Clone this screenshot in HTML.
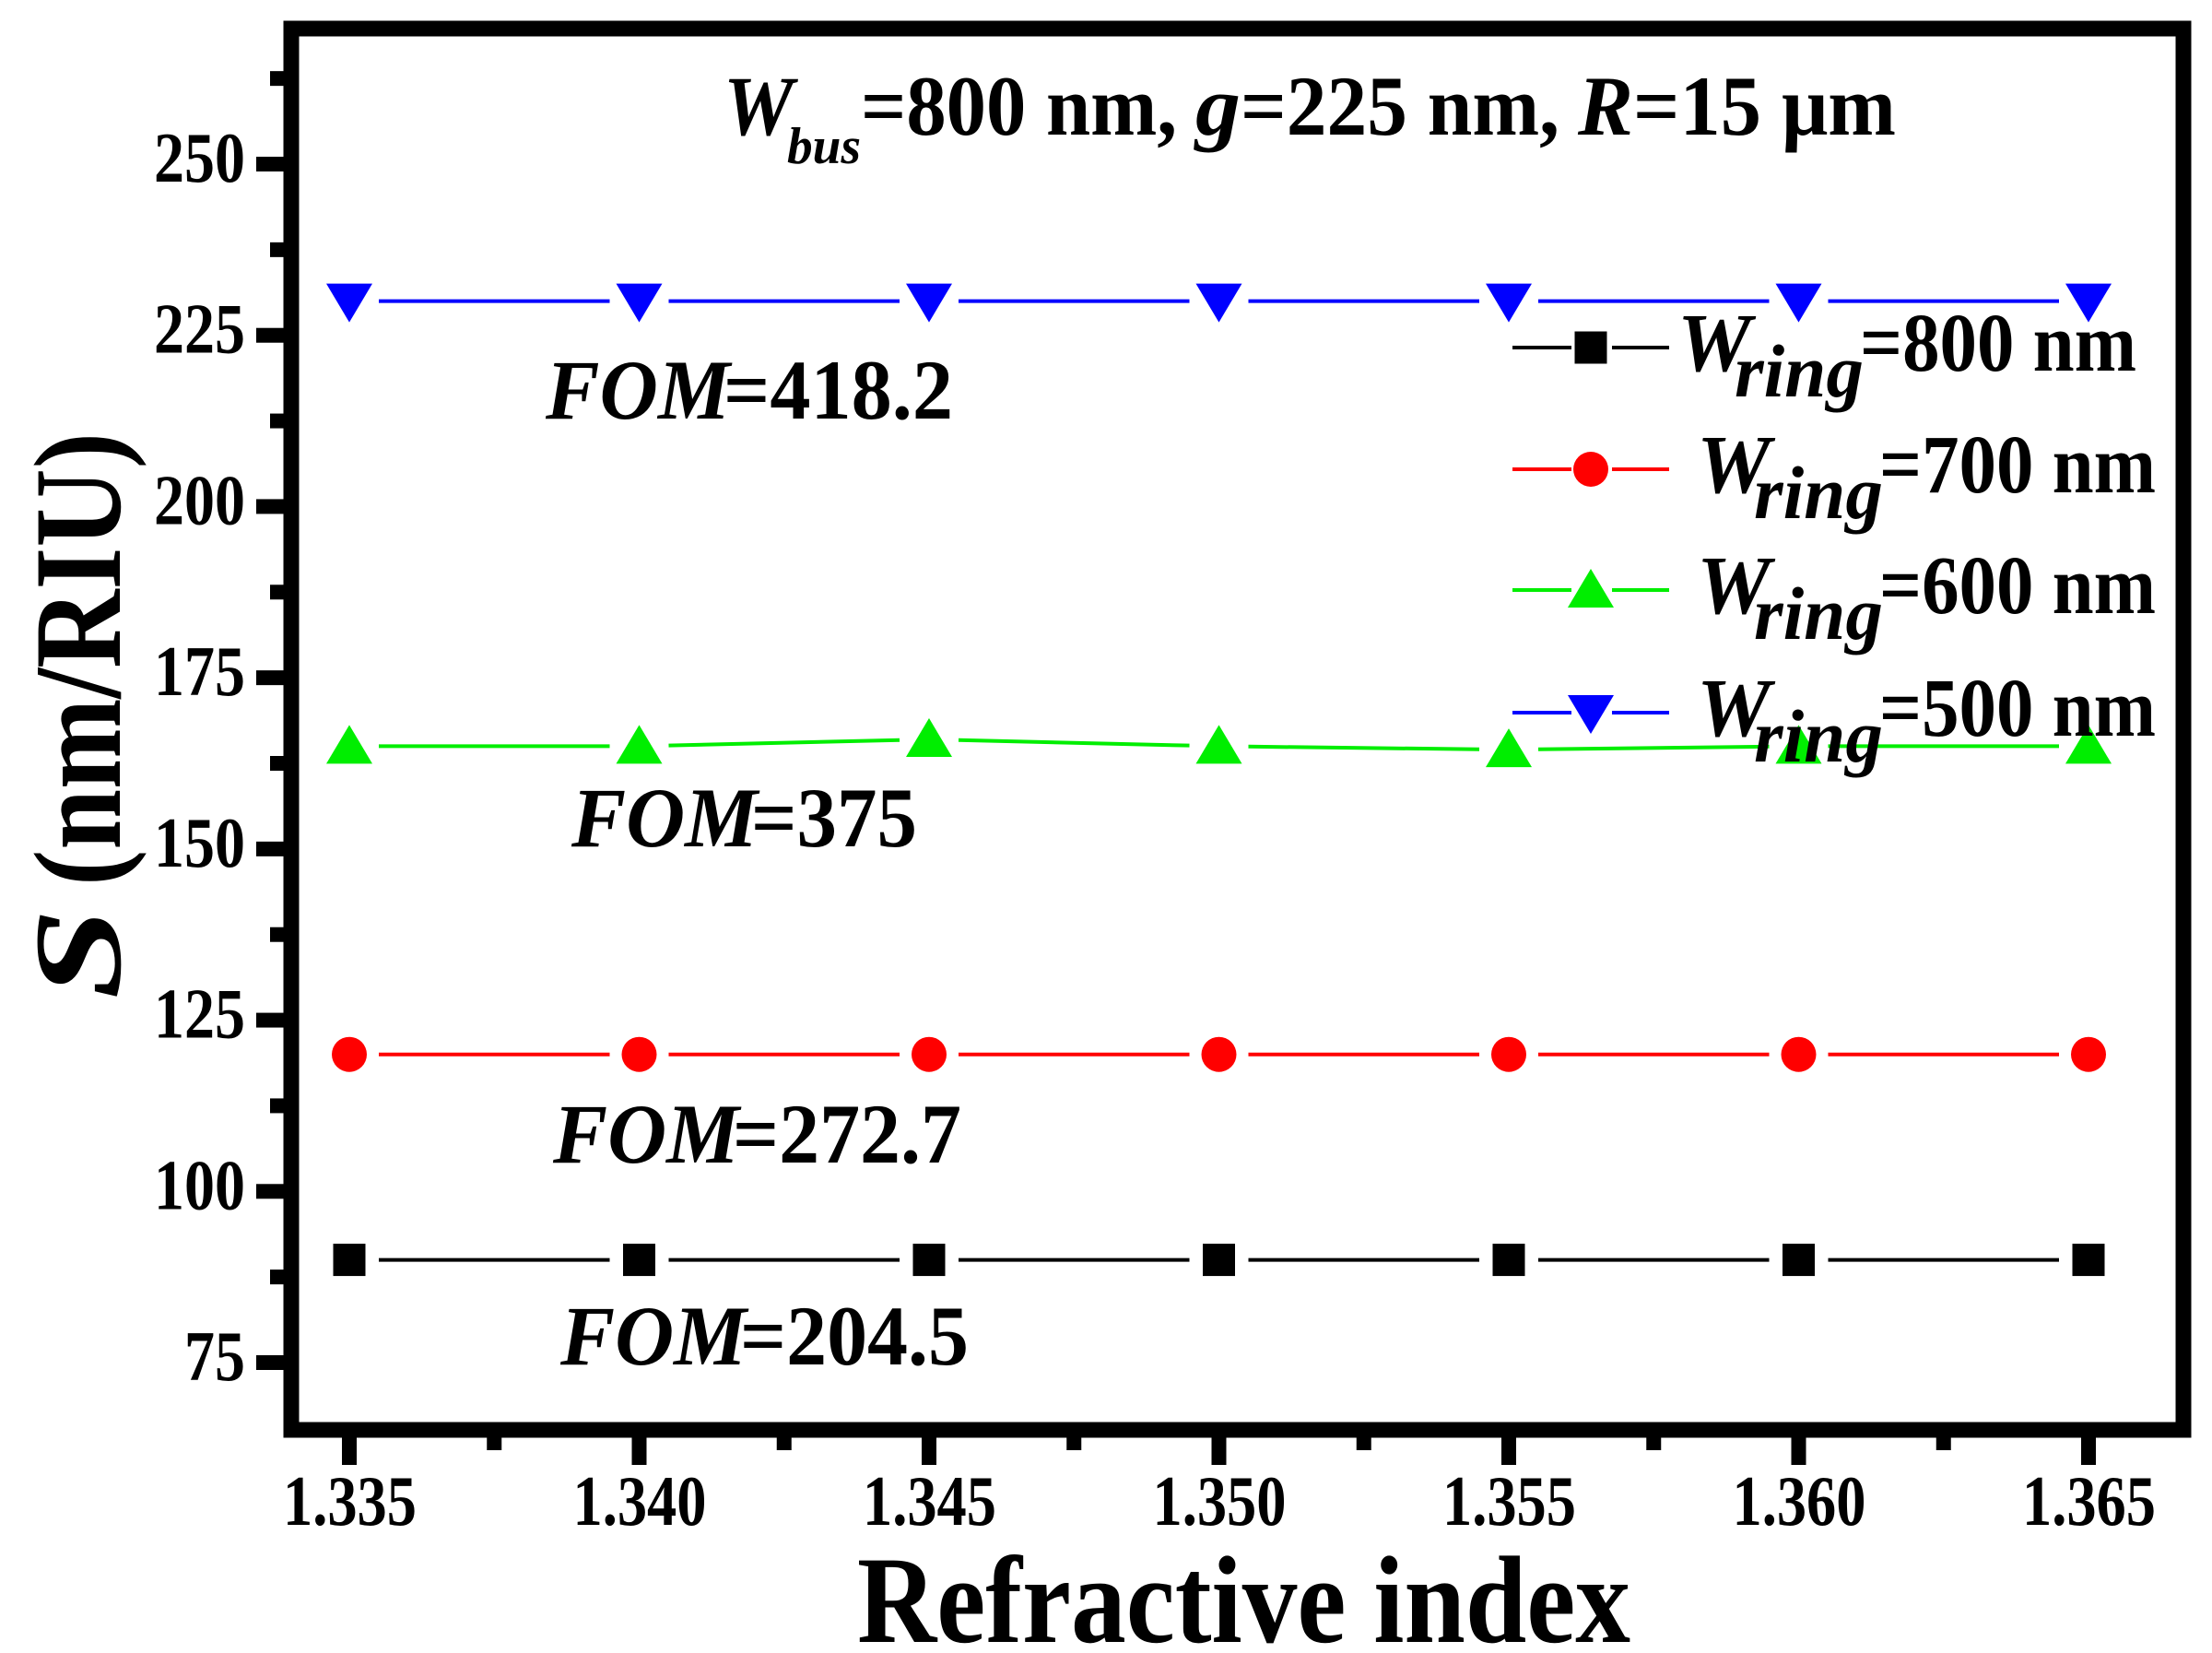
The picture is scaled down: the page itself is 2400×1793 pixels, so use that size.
<!DOCTYPE html>
<html><head><meta charset="utf-8"><style>
html,body{margin:0;padding:0;background:#fff}
svg{display:block}
text{font-family:"Liberation Serif",serif;font-weight:bold;fill:#000}
.i{font-style:italic}
</style></head><body>
<svg id="chart" width="2400" height="1793" viewBox="0 0 2400 1793" xmlns="http://www.w3.org/2000/svg">
<g id="plot"></g>
<g id="axes"></g>
<g>
<text class="i" x="785" y="146" font-size="92" textLength="76" lengthAdjust="spacingAndGlyphs">W</text>
<text class="i" x="854" y="177" font-size="56" textLength="80" lengthAdjust="spacingAndGlyphs">bus</text>
<text x="934" y="146" font-size="92" textLength="343" lengthAdjust="spacingAndGlyphs">=800 nm,</text>
<text class="i" x="1297" y="146" font-size="92" textLength="49" lengthAdjust="spacingAndGlyphs">g</text>
<text x="1346" y="146" font-size="92" textLength="346" lengthAdjust="spacingAndGlyphs">=225 nm,</text>
<text class="i" x="1712" y="146" font-size="92" textLength="60" lengthAdjust="spacingAndGlyphs">R</text>
<text x="1772" y="146" font-size="92" textLength="285" lengthAdjust="spacingAndGlyphs">=15 μm</text>
</g>
<g>
<g><text class="i" x="592" y="454" font-size="92" textLength="200" lengthAdjust="spacingAndGlyphs">FOM</text><text x="785" y="454" font-size="92" textLength="249" lengthAdjust="spacingAndGlyphs">=418.2</text></g>
<g><text class="i" x="620" y="918" font-size="92" textLength="202" lengthAdjust="spacingAndGlyphs">FOM</text><text x="815" y="918" font-size="92" textLength="180" lengthAdjust="spacingAndGlyphs">=375</text></g>
<g><text class="i" x="600" y="1261" font-size="92" textLength="202" lengthAdjust="spacingAndGlyphs">FOM</text><text x="795" y="1261" font-size="92" textLength="248" lengthAdjust="spacingAndGlyphs">=272.7</text></g>
<g><text class="i" x="608" y="1480" font-size="92" textLength="202" lengthAdjust="spacingAndGlyphs">FOM</text><text x="803" y="1480" font-size="92" textLength="248" lengthAdjust="spacingAndGlyphs">=204.5</text></g>
</g>
<text x="930" y="1781" font-size="135" textLength="839" lengthAdjust="spacingAndGlyphs">Refractive index</text>
<g transform="translate(130,1084) rotate(-90)">
<text class="i" x="0" y="0" font-size="135" textLength="99" lengthAdjust="spacingAndGlyphs">S</text>
<text x="123" y="0" font-size="135" textLength="492" lengthAdjust="spacingAndGlyphs">(nm/RIU)</text>
</g>
<g id="legend"></g>
</svg>
<script>
const categories = [1.335, 1.340, 1.345, 1.350, 1.355, 1.360, 1.365];
const s800 = [90, 90, 90, 90, 90, 90, 90];
const s700 = [120, 120, 120, 120, 120, 120, 120];
const s600 = [165, 165, 166, 165, 164.5, 165, 165];
const s500 = [230, 230, 230, 230, 230, 230, 230];
const yTicks = [75, 100, 125, 150, 175, 200, 225, 250];
const yTickLabels = ["75", "100", "125", "150", "175", "200", "225", "250"];
const xTickLabels = ["1.335", "1.340", "1.345", "1.350", "1.355", "1.360", "1.365"];
const legendLabels = ["=800 nm", "=700 nm", "=600 nm", "=500 nm"];

const NS = "http://www.w3.org/2000/svg";
const X0 = 379, X1 = 2266, XV0 = 1.335, XV1 = 1.365;
const Y0 = 1478, Y1 = 178, YV0 = 75, YV1 = 250;
function xs(v){ return X0 + (v - XV0) / (XV1 - XV0) * (X1 - X0); }
function ys(v){ return Y0 + (v - YV0) / (YV1 - YV0) * (Y1 - Y0); }
function mk(tag, attrs, parent){
  const e = document.createElementNS(NS, tag);
  for (const k in attrs) e.setAttribute(k, attrs[k]);
  parent.appendChild(e); return e;
}
const plot = document.getElementById('plot');
const axes = document.getElementById('axes');
const legend = document.getElementById('legend');

function marker(type, cx, cy, color, parent){
  let e;
  if (type === 'square') e = mk('rect', {x: cx-17.5, y: cy-17.5, width: 35, height: 35, fill: color}, parent);
  else if (type === 'circle') e = mk('ellipse', {cx: cx, cy: cy, rx: 19, ry: 19, fill: color}, parent);
  else if (type === 'up') e = mk('polygon', {points: `${cx-25},${cy+19} ${cx+25},${cy+19} ${cx},${cy-23}`, fill: color}, parent);
  else e = mk('polygon', {points: `${cx-25},${cy-19} ${cx+25},${cy-19} ${cx},${cy+23}`, fill: color}, parent);
  return e;
}
const series = [
  {vals: s800, color: '#000', type: 'square', name: 'series-w800'},
  {vals: s700, color: '#ff0000', type: 'circle', name: 'series-w700'},
  {vals: s600, color: '#00ee00', type: 'up', name: 'series-w600'},
  {vals: s500, color: '#0000ff', type: 'down', name: 'series-w500'}
];
series.forEach(s => {
  const g = mk('g', {}, plot);
  
  
  for (let i = 0; i < categories.length - 1; i++){
    const xa = xs(categories[i]), ya = ys(s.vals[i]);
    const xb = xs(categories[i+1]), yb = ys(s.vals[i+1]);
    const dx = xb - xa, dy = yb - ya, L = Math.hypot(dx, dy), gap = 32;
    const ln = mk('line', {x1: xa + dx*gap/L, y1: ya + dy*gap/L, x2: xb - dx*gap/L, y2: yb - dy*gap/L, stroke: s.color, 'stroke-width': 4}, g);
    
    
  }
  categories.forEach((c, i) => {
    const m = marker(s.type, xs(c), ys(s.vals[i]), s.color, g);
    
    
  });
});

// frame
const fr = mk('rect', {x: 316, y: 31, width: 2053, height: 1520, fill: 'none', stroke: '#000', 'stroke-width': 17}, axes);


// y ticks
yTicks.forEach((v, i) => {
  const t = mk('rect', {x: 278, y: ys(v) - 8, width: 32, height: 16, fill: '#000'}, axes);
  
  
  const m = mk('rect', {x: 293, y: ys(v + 12.5) - 8, width: 17, height: 16, fill: '#000'}, axes);
  
  
  const lb = mk('text', {x: 266, y: ys(v) + 19, 'font-size': 77, 'text-anchor': 'end', textLength: yTickLabels[i].length * 33, lengthAdjust: 'spacingAndGlyphs'}, axes);
  lb.textContent = yTickLabels[i];
  
  
});
// x ticks
categories.forEach((c, i) => {
  const t = mk('rect', {x: xs(c) - 8, y: 1550, width: 16, height: 39, fill: '#000'}, axes);
  
  
  if (i < categories.length - 1){
    const m = mk('rect', {x: xs(c + 0.0025) - 8, y: 1550, width: 16, height: 23, fill: '#000'}, axes);
    
    
  }
  const lb = mk('text', {x: xs(c) - 72, y: 1654, 'font-size': 77, textLength: 145, lengthAdjust: 'spacingAndGlyphs'}, axes);
  lb.textContent = xTickLabels[i];
  
  
});
// legend
const legY = [377, 509, 640, 773];
series.forEach((s, i) => {
  const g = mk('g', {}, legend);
  
  
  const y = legY[i];
  mk('line', {x1: 1641, y1: y, x2: 1705, y2: y, stroke: s.color, 'stroke-width': 4}, g);
  mk('line', {x1: 1749, y1: y, x2: 1811, y2: y, stroke: s.color, 'stroke-width': 4}, g);
  marker(s.type, 1726, y, s.color, g);
  const off = i === 0 ? 0 : 21;
  const w = mk('text', {class: 'i', x: 1820 + off, y: y + 25, 'font-size': 90, textLength: 80, lengthAdjust: 'spacingAndGlyphs'}, g);
  w.textContent = 'W';
  const r = mk('text', {class: 'i', x: 1882 + off, y: y + 53, 'font-size': 82, textLength: 140, lengthAdjust: 'spacingAndGlyphs'}, g);
  r.textContent = 'ring';
  const lab = mk('text', {x: 2018 + off, y: y + 25, 'font-size': 90, textLength: 300, lengthAdjust: 'spacingAndGlyphs'}, g);
  lab.textContent = legendLabels[i];
});
</script>
</body></html>
